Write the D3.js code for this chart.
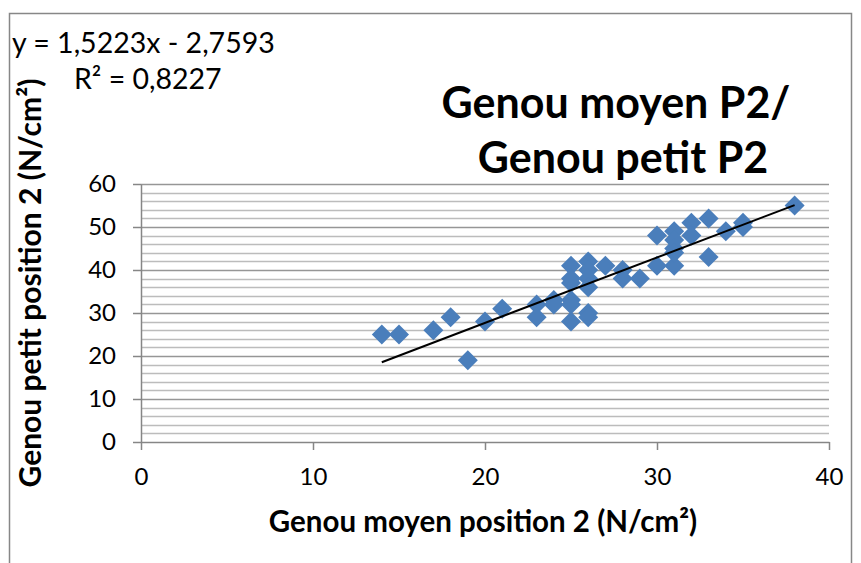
<!DOCTYPE html>
<html>
<head>
<meta charset="utf-8">
<script src="https://cdn.jsdelivr.net/npm/d3@7"></script>
<style>
  html, body { margin: 0; padding: 0; background: #fff; }
  svg { display: block; }
  text { font-family: Lato, "Open Sans", "Liberation Sans", sans-serif; fill: #000; }
</style>
</head>
<body>
<svg id="chart" width="861" height="563"></svg>
<script>
// Pressure readings, position 2 (N/cm²)
const genouMoyen = [14, 15, 17, 18, 19, 20, 21, 23, 23, 24, 24, 25, 25, 25, 25, 25, 25, 26, 26, 26, 26, 26, 26, 27, 28, 28, 29, 30, 30, 31, 31, 31, 31, 31, 32, 32, 33, 33, 34, 35, 35, 38];
const genouPetit  = [25, 25, 26, 29, 19, 28, 31, 32, 29, 33, 32, 41, 38, 37, 33, 32, 28, 42, 40, 38, 36, 30, 29, 41, 40, 38, 38, 48, 41, 49, 47, 45, 41, 44, 51, 48, 52, 43, 49, 51, 50, 55];

// Linear trend line reported on the chart
const slope = 1.5223;
const intercept = -2.7593;
const r2 = 0.8227;

const xTicks = [0, 10, 20, 30, 40];
const yTicks = [0, 10, 20, 30, 40, 50, 60];
const yMinorTicks = d3.range(0, 61, 2);

const fmt = v => String(v).replace(".", ",");

const svg = d3.select("#chart");

// Outer chart frame
svg.append("rect")
  .attr("x", 9.5).attr("y", 13.5)
  .attr("width", 842).attr("height", 560)
  .attr("fill", "#fff").attr("stroke", "#878787").attr("stroke-width", 1.5);

const x = d3.scaleLinear().domain([0, 40]).range([141, 829]);
const y = d3.scaleLinear().domain([0, 60]).range([442, 184]);

// Horizontal gridlines: minor every 2, major every 10
svg.append("g").selectAll("line")
  .data(yMinorTicks.filter(v => v % 10 !== 0))
  .join("line")
  .attr("x1", x(0)).attr("x2", x(40))
  .attr("y1", d => Math.round(y(d)) + 0.5).attr("y2", d => Math.round(y(d)) + 0.5)
  .attr("stroke", "#bcbcbc").attr("stroke-width", 1.5);

svg.append("g").selectAll("line")
  .data(yTicks.filter(v => v !== 0))
  .join("line")
  .attr("x1", x(0)).attr("x2", x(40))
  .attr("y1", d => Math.round(y(d)) + 0.5).attr("y2", d => Math.round(y(d)) + 0.5)
  .attr("stroke", "#969696").attr("stroke-width", 1.5);

// Axes
const xAxis = d3.axisBottom(x).tickValues(xTicks).tickSize(8).tickPadding(18).tickSizeOuter(0);
const yAxis = d3.axisLeft(y).tickValues(yTicks).tickSize(8).tickPadding(17).tickSizeOuter(0);

const gx = svg.append("g").attr("transform", `translate(0,${y(0)})`).call(xAxis);
const gy = svg.append("g").attr("transform", `translate(${x(0)},0)`).call(yAxis);

[gx, gy].forEach(g => {
  g.select(".domain").attr("stroke", "#868686").attr("stroke-width", 1.5);
  g.selectAll(".tick line").attr("stroke", "#868686").attr("stroke-width", 1.5);
  g.selectAll(".tick text")
    .attr("font-family", "Lato, 'Open Sans', sans-serif")
    .attr("font-size", 24).attr("fill", "#000");
});

// Scatter points (diamonds)
const r = 10;
svg.append("g").selectAll("path")
  .data(genouMoyen.map((v, i) => [v, genouPetit[i]]))
  .join("path")
  .attr("d", `M0,${-r}L${r},0L0,${r}L${-r},0Z`)
  .attr("transform", d => `translate(${x(d[0])},${y(d[1])})`)
  .attr("fill", "#4a7ebb");

// Trend line over the data range
const xmin = d3.min(genouMoyen), xmax = d3.max(genouMoyen);
svg.append("line")
  .attr("x1", x(xmin)).attr("y1", y(slope * xmin + intercept))
  .attr("x2", x(xmax)).attr("y2", y(slope * xmax + intercept))
  .attr("stroke", "#000").attr("stroke-width", 2);

// Equation and R²
svg.append("text").attr("x", 12).attr("y", 53)
  .attr("font-size", 28.5)
  .text(`y = ${fmt(slope)}x - ${fmt(Math.abs(intercept))}`);
svg.append("text").attr("x", 74).attr("y", 89)
  .attr("font-size", 28.5)
  .text(`R² = ${fmt(r2)}`);

// Title
const title = svg.append("text").attr("text-anchor", "middle")
  .attr("font-size", 43).attr("font-weight", "bold");
title.append("tspan").attr("x", 616).attr("y", 118).text("Genou moyen P2/");
title.append("tspan").attr("x", 623).attr("y", 173).text("Genou petit P2");

// Axis titles
svg.append("text")
  .attr("x", 483).attr("y", 532)
  .attr("text-anchor", "middle")
  .attr("font-size", 29.5).attr("font-weight", "bold")
  .text("Genou moyen position 2 (N/cm²)");

svg.append("text")
  .attr("transform", "translate(41,283) rotate(-90)")
  .attr("text-anchor", "middle")
  .attr("font-size", 30).attr("font-weight", "bold")
  .text("Genou petit position 2 (N/cm²)");
</script>
</body>
</html>
